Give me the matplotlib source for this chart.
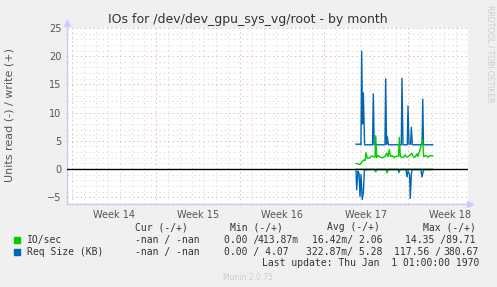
import matplotlib
matplotlib.use('Agg')
from matplotlib import pyplot as plt
from matplotlib.patches import Rectangle

# time in days since start of week 14
blue_w_t = [23.67, 24.00, 24.08, 24.14, 24.21, 24.28, 24.38, 25.04, 25.11, 25.18, 26.08, 26.14,
            26.21, 26.28, 26.36, 27.44, 27.50, 27.58, 27.94, 28.00, 28.08, 28.21, 28.28, 28.36,
            29.17, 29.23, 29.29, 30.06]
blue_w = [4.4, 4.4, 4.3, 20.9, 8.0, 13.5, 4.3, 4.3, 13.3, 4.3, 4.3, 16.0,
          4.4, 5.7, 4.3, 4.3, 16.1, 4.3, 4.3, 11.2, 4.4, 4.4, 7.4, 4.3,
          4.3, 12.4, 4.3, 4.3]

green_w_t = [23.67, 23.83, 24.00, 24.17, 24.29, 24.42, 24.50, 24.61, 24.83, 24.96, 25.25, 25.31,
             25.39, 25.50, 25.67, 25.83, 26.08, 26.22, 26.33, 26.44, 26.53, 26.67, 26.83, 26.92,
             27.21, 27.28, 27.36, 27.58, 27.75, 27.88, 28.08, 28.33, 28.42, 28.58, 28.75, 28.83,
             29.22, 29.31, 29.50, 29.67, 29.83, 30.06]
green_w = [1.0, 0.9, 0.8, 1.3, 1.6, 1.5, 2.9, 1.9, 2.0, 2.3, 2.1, 5.9,
           2.0, 2.4, 2.1, 2.0, 2.2, 2.8, 2.2, 3.4, 2.2, 2.4, 2.0, 2.2,
           2.3, 5.6, 2.2, 2.0, 2.5, 2.1, 2.3, 2.8, 2.2, 2.1, 2.7, 2.2,
           5.1, 2.2, 2.4, 2.1, 2.4, 2.3]

blue_r_t = [23.67, 23.72, 23.83, 23.92, 24.00, 24.08, 24.19, 24.28, 24.36, 24.50, 25.21, 25.28,
            25.33, 26.17, 26.22, 26.29, 27.17, 27.25, 27.33, 27.83, 27.92, 28.00, 28.13, 28.19,
            28.28, 28.33, 29.08, 29.17, 29.25, 29.33, 30.06]
blue_r = [-0.3, -3.7, -0.4, -0.8, -4.9, -1.0, -5.4, -4.2, -0.3, -0.1, -0.1, -0.4,
          -0.1, -0.1, -0.4, -0.1, -0.1, -0.6, -0.1, -0.1, -1.4, -0.3, -1.0, -5.2,
          -1.0, -0.1, -0.1, -1.4, -0.5, -0.1, -0.1]

green_r_t = [23.67, 25.25, 25.31, 25.39, 26.17, 26.25, 26.33, 27.21, 27.28, 27.36, 30.06]
green_r = [-0.05, -0.05, -0.5, -0.05, -0.05, -0.7, -0.05, -0.05, -0.3, -0.05, -0.05]

week_pos = [3.5, 10.5, 17.5, 24.5, 31.5]
week_labels = ['Week 14', 'Week 15', 'Week 16', 'Week 17', 'Week 18']

W, H = 497, 287
fig = plt.figure(figsize=(W / 100, H / 100), dpi=100, facecolor='#F0F0F0')
ax = fig.add_axes([67 / W, 83 / H, 401 / W, 176 / H])
ax.set_facecolor('white')

ax.set_xlim(-0.42, 33.0)
ax.set_ylim(-6.2, 25.0)

# grid: minor gray, major red
for d in range(0, 34):
    c = '#f0b4b4' if d % 7 == 0 else '#dedede'
    ax.axvline(d, color=c, lw=0.7, ls=(0, (1.5, 3)), zorder=0)
for v in range(-6, 26):
    c = '#f0b4b4' if v % 5 == 0 else '#dedede'
    ax.axhline(v, color=c, lw=0.7, ls=(0, (1.5, 3)), zorder=0)

ax.plot(blue_w_t, blue_w, color='#0066B3', lw=1.0, zorder=3)
ax.plot(green_w_t, green_w, color='#00CC00', lw=1.0, zorder=3)
ax.plot(blue_r_t, blue_r, color='#0066B3', lw=1.0, zorder=3)
ax.plot(green_r_t, green_r, color='#00CC00', lw=1.0, zorder=3)
ax.axhline(0, color='black', lw=1.0, zorder=4)

ax.set_xticks(week_pos)
ax.set_xticklabels(week_labels)
ax.set_yticks([-5, 0, 5, 10, 15, 20, 25])
ax.tick_params(axis='both', length=0, labelsize=7, colors='#555555', pad=4)
for s in ['top', 'right']:
    ax.spines[s].set_visible(False)
for s in ['left', 'bottom']:
    ax.spines[s].set_color('#ccccee')
    ax.spines[s].set_linewidth(1.0)
ax.plot([-0.42], [25.9], marker='^', color='#ccccff', ms=4, clip_on=False)
ax.plot([33.2], [-6.2], marker='>', color='#ccccff', ms=4, clip_on=False)

def px(x, y):
    return x / W, 1 - y / H

fig.text(*px(248, 19), 'IOs for /dev/dev_gpu_sys_vg/root - by month', ha='center', va='center',
         fontsize=9, color='#333333')
fig.text(*px(10, 115), 'Units read (-) / write (+)', rotation=90, ha='center', va='center',
         fontsize=8, color='#555555')
fig.text(*px(490, 5), 'RRDTOOL / TOBI OETIKER', rotation=270, ha='center', va='top',
         fontsize=5.5, color='#cccccc')

mono = dict(family='DejaVu Sans Mono', fontsize=7, color='#333333', va='center', ha='left')
legend_items = [
    (227, [(135, 'Cur (-/+)'), (230, 'Min (-/+)'), (327, 'Avg (-/+)'), (423, 'Max (-/+)')]),
    (240, [(27, 'IO/sec'), (135, '-nan / -nan'), (224, '0.00 /'), (257, '413.87m'),
           (312, '16.42m/ 2.06'), (405, '14.35 /89.71')]),
    (252, [(27, 'Req Size (KB)'), (135, '-nan / -nan'), (224, '0.00 / 4.07'),
           (306, '322.87m/ 5.28'), (394, '117.56 /'), (443, '380.67')]),
    (263, [(262, 'Last update: Thu Jan  1 01:00:00 1970')]),
]
for y, parts in legend_items:
    for x, s in parts:
        fig.text(*px(x, y), s, **mono)

fig.patches.append(Rectangle(px(14, 243), 6 / W, 6 / H, transform=fig.transFigure,
                             color='#00CC00', figure=fig))
fig.patches.append(Rectangle(px(14, 255), 6 / W, 6 / H, transform=fig.transFigure,
                             color='#0066B3', figure=fig))

fig.text(*px(248, 277), 'Munin 2.0.75', ha='center', va='center', fontsize=5.5, color='#cccccc')

fig.savefig('out.png', dpi=100, facecolor=fig.get_facecolor())
